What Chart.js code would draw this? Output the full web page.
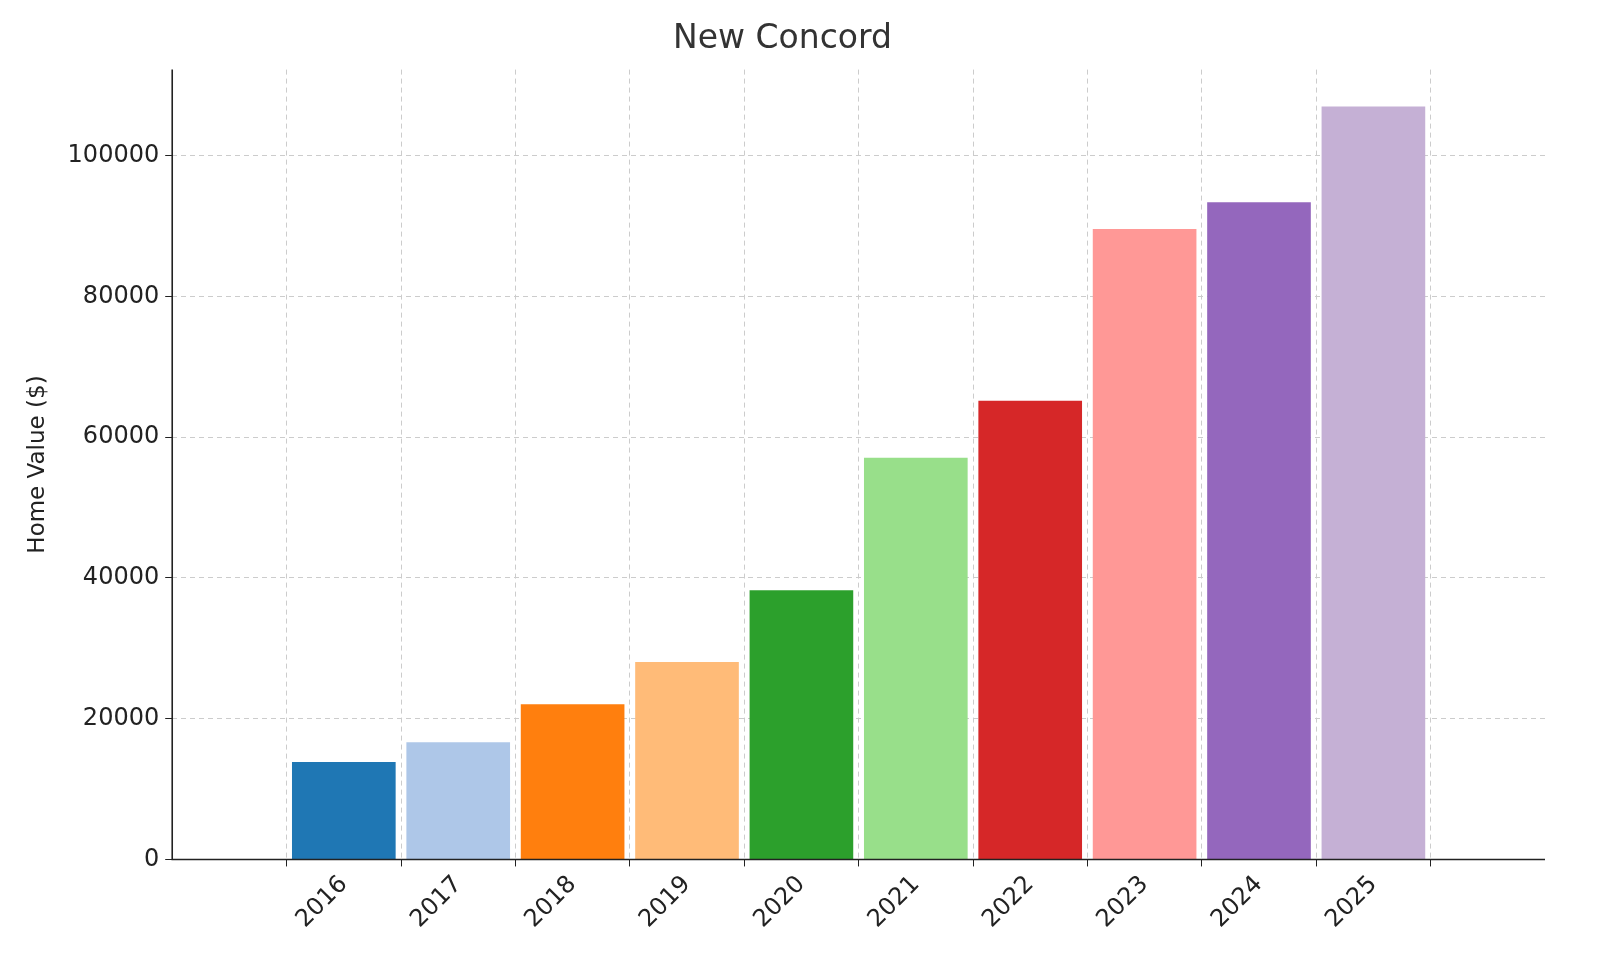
<!DOCTYPE html>
<html><head><meta charset="utf-8">
<script src="https://cdn.jsdelivr.net/npm/chart.js@4/dist/chart.umd.min.js"></script>
<style>html,body{margin:0;background:#fff}#w{width:1600px;height:960px}</style>
</head><body><div id="w"><canvas id="c"></canvas></div>
<script>
const categories = [2016,2017,2018,2019,2020,2021,2022,2023,2024,2025];
const values = [13800,16600,22000,28000,38200,57000,65100,89500,93300,106900];
const colors = ["#1f77b4","#aec7e8","#ff7f0e","#ffbb78","#2ca02c","#98df8a","#d62728","#ff9896","#9467bd","#c5b0d5"];
const yTicks = [0,20000,40000,60000,80000,100000];
const font = "'DejaVu Sans', sans-serif";
const axesPlugin = {
  id:'axesLines',
  afterDraw(ch){
    const {ctx,chartArea:a}=ch;
    ctx.save();ctx.strokeStyle='#222';ctx.lineWidth=1.6;
    ctx.beginPath();ctx.moveTo(a.left,a.top);ctx.lineTo(a.left,a.bottom);ctx.lineTo(a.right,a.bottom);ctx.stroke();
    ctx.restore();
  }
};
new Chart(document.getElementById('c'),{
  type:'bar',
  data:{datasets:[{data:categories.map((c,i)=>({x:c,y:values[i]})),backgroundColor:colors,barThickness:103}]},
  options:{
    responsive:true,maintainAspectRatio:false,animation:false,
    layout:{padding:{left:20,right:55,top:4,bottom:22}},
    plugins:{legend:{display:false},tooltip:{enabled:false},
      title:{display:true,text:'New Concord',color:'#333',font:{family:font,size:33,weight:'normal'},padding:{top:16,bottom:10}}},
    scales:{
      x:{type:'linear',min:2015.1,max:2025.9,afterBuildTicks(s){s.ticks=categories.map(v=>({value:v}));},
        grid:{color:'#ccc',tickLength:7,tickColor:'#222'},border:{display:false,dash:[5,4]},
        ticks:{color:'#222',font:{family:font,size:24},maxRotation:45,minRotation:45,padding:4,callback:v=>String(v)}},
      y:{min:0,max:112200,afterBuildTicks(s){s.ticks=yTicks.map(v=>({value:v}));},
        grid:{color:'#ccc',tickLength:7,tickColor:'#222'},border:{display:false,dash:[5,4]},
        ticks:{color:'#222',font:{family:font,size:24},padding:6,callback:v=>String(v)},
        title:{display:true,text:'Home Value ($)',color:'#222',font:{family:font,size:23},padding:{bottom:10}}}
    }
  },
  plugins:[axesPlugin]
});
</script></body></html>
